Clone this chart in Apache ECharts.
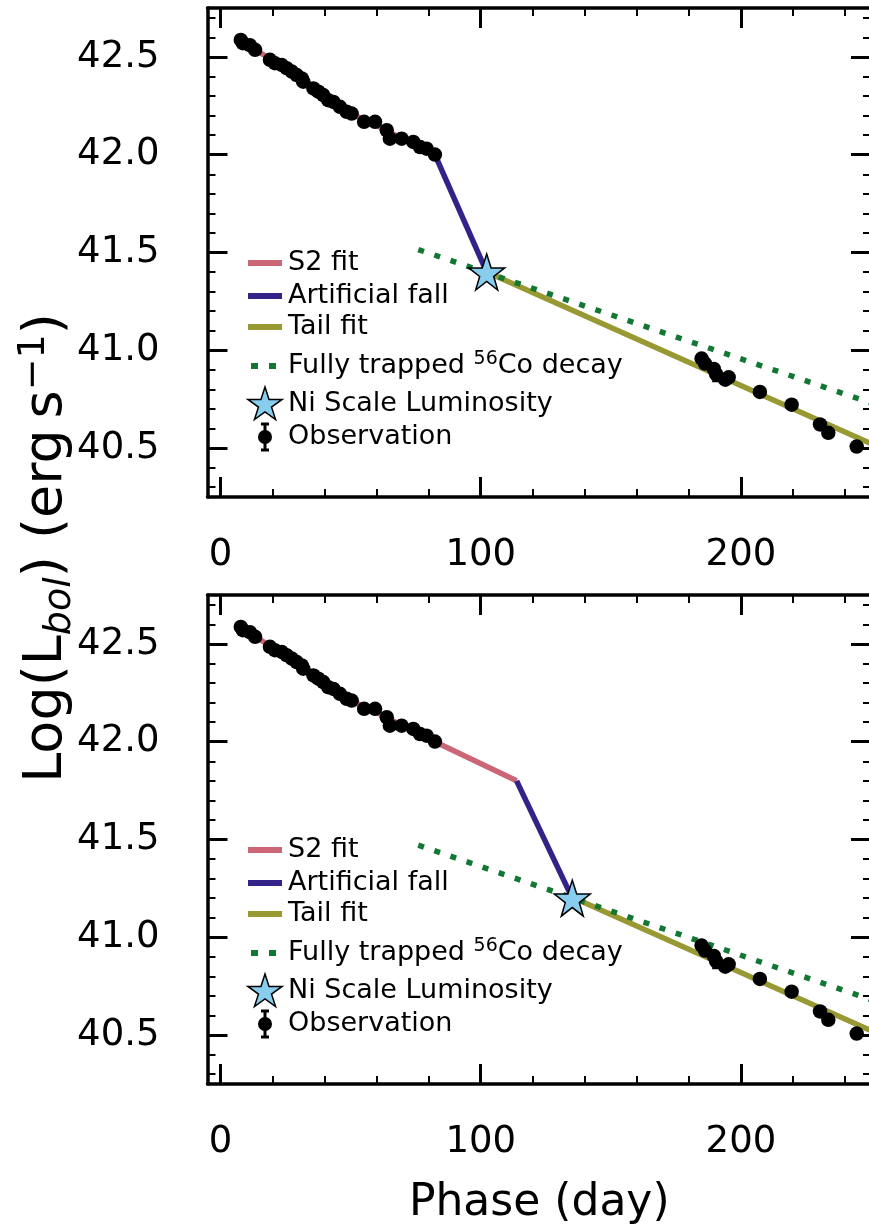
<!DOCTYPE html>
<html>
<head>
<meta charset="utf-8">
<script src="https://cdn.jsdelivr.net/npm/echarts@6/dist/echarts.min.js"></script>
<style>
  html, body { margin: 0; padding: 0; background: #fff; }
  #chart { width: 869px; height: 1226px; }
</style>
</head>
<body>
<div id="chart"></div>
<script>
// observed bolometric light curve, same in both panels
const obsPhase = [7.8, 8.6, 11.3, 13.3, 19.0, 20.9, 23.5, 25.4, 27.4, 29.3, 31.2, 31.8, 35.7, 37.6, 39.5,
  41.4, 43.4, 45.9, 48.5, 50.4, 55.2, 59.4, 63.9, 65.1, 69.6, 74.1, 76.7, 79.2, 82.4,
  184.9, 186.2, 189.6, 190.5, 194.0, 195.3, 207.3, 219.5, 230.4, 233.6, 244.5];
const obsLogL = [42.587, 42.57, 42.56, 42.536, 42.485, 42.468, 42.459, 42.442, 42.425, 42.407, 42.39, 42.373, 42.339, 42.322, 42.305,
  42.279, 42.27, 42.245, 42.219, 42.21, 42.168, 42.168, 42.125, 42.082, 42.082, 42.065, 42.039, 42.031, 42.001,
  40.958, 40.932, 40.905, 40.878, 40.85, 40.862, 40.787, 40.722, 40.621, 40.578, 40.508];
const obsErr = [0.01, 0.01, 0.01, 0.01, 0.01, 0.01, 0.01, 0.01, 0.01, 0.01, 0.01, 0.01, 0.01, 0.01, 0.01,
  0.01, 0.01, 0.01, 0.01, 0.01, 0.01, 0.01, 0.01, 0.01, 0.01, 0.01, 0.01, 0.01, 0.01,
  0.02, 0.02, 0.02, 0.035, 0.02, 0.02, 0.02, 0.02, 0.02, 0.02, 0.02];

// top panel fits
const topS2Phase = [8, 20, 30, 40, 50, 60, 70, 82.4];
const topS2LogL = [42.585, 42.48, 42.405, 42.30, 42.21, 42.15, 42.08, 42.0];
const topFallPhase = [82.4, 102.3];
const topFallLogL = [42.0, 41.40];
const topTailPhase = [102.3, 250];
const topTailLogL = [41.40, 40.523];
const topCoPhase = [76, 250];
const topCoLogL = [41.515, 40.731];
const topNiPhase = [102.3];
const topNiLogL = [41.40];

// bottom panel fits
const botS2Phase = [8, 20, 30, 40, 50, 60, 70, 82.4, 113.8];
const botS2LogL = [42.585, 42.48, 42.405, 42.30, 42.21, 42.15, 42.08, 42.0, 41.80];
const botFallPhase = [113.8, 135.2];
const botFallLogL = [41.80, 41.20];
const botTailPhase = [135.2, 250];
const botTailLogL = [41.205, 40.523];
const botCoPhase = [76, 250];
const botCoLogL = [41.471, 40.681];
const botNiPhase = [135.2];
const botNiLogL = [41.20];

// axes
const xMin = -5, xMax = 250;
const yMin = 40.25, yMax = 42.75;
const xMajor = [0, 100, 200];
const xMinor = [0, 20, 40, 60, 80, 100, 120, 140, 160, 180, 200, 220, 240];
const yMajor = [40.5, 41.0, 41.5, 42.0, 42.5];
const yMinor = [40.3, 40.4, 40.5, 40.6, 40.7, 40.8, 40.9, 41.0, 41.1, 41.2, 41.3, 41.4, 41.5,
  41.6, 41.7, 41.8, 41.9, 42.0, 42.1, 42.2, 42.3, 42.4, 42.5, 42.6, 42.7];

const legendNames = ['S2 fit', 'Artificial fall', 'Tail fit', 'Fully trapped 56Co decay', 'Ni Scale Luminosity', 'Observation'];

const FONT = 'DejaVu Sans';
const C_S2 = '#CC6677', C_FALL = '#332288', C_TAIL = '#999933', C_CO = '#117733', C_STAR = '#88CCEE';
const STAR = 'path://M50,0 L61.8,35.1 L98.1,35.1 L68.8,56.7 L79.4,90.9 L50,69.1 L20.6,90.9 L31.2,56.7 L1.9,35.1 L38.2,35.1 Z';
const TICK_FS = 37;
const LEG_FS = 27;

const chart = echarts.init(document.getElementById('chart'));

const xAxes = [];
const yAxes = [];
function addAxes(g, showName) {
  const xb = { type: 'value', gridIndex: g, min: xMin, max: xMax, splitLine: { show: false } };
  const yb = { type: 'value', gridIndex: g, min: yMin, max: yMax, splitLine: { show: false } };
  const spine = { show: true, onZero: false, lineStyle: { color: '#000', width: 3.5 } };
  const noLine = { show: false, onZero: false };
  const major = (vals) => ({ show: true, inside: true, length: 20, customValues: vals, lineStyle: { color: '#000', width: 3 } });
  const minor = (vals) => ({ show: true, inside: true, length: 8, customValues: vals, lineStyle: { color: '#000', width: 2 } });
  xAxes.push(Object.assign({}, xb, {
    position: 'bottom', axisLine: spine, axisTick: major(xMajor),
    axisLabel: { show: true, customValues: xMajor, margin: 40, fontSize: TICK_FS, color: '#000', fontFamily: FONT },
    name: showName ? 'Phase (day)' : '', nameLocation: 'middle', nameGap: 98,
    nameTextStyle: { fontSize: 44, color: '#000', fontFamily: FONT }
  }));
  xAxes.push(Object.assign({}, xb, { position: 'bottom', axisLine: noLine, axisTick: minor(xMinor), axisLabel: { show: false } }));
  xAxes.push(Object.assign({}, xb, { position: 'top', axisLine: spine, axisTick: major(xMajor), axisLabel: { show: false } }));
  xAxes.push(Object.assign({}, xb, { position: 'top', axisLine: noLine, axisTick: minor(xMinor), axisLabel: { show: false } }));

  yAxes.push(Object.assign({}, yb, {
    position: 'left', axisLine: spine, axisTick: major(yMajor),
    axisLabel: { show: true, customValues: yMajor, margin: 48, fontSize: TICK_FS, color: '#000', fontFamily: FONT,
      formatter: (v) => v.toFixed(1) }
  }));
  yAxes.push(Object.assign({}, yb, { position: 'left', axisLine: noLine, axisTick: minor(yMinor), axisLabel: { show: false } }));
  yAxes.push(Object.assign({}, yb, { position: 'right', axisLine: spine, axisTick: major(yMajor), axisLabel: { show: false } }));
  yAxes.push(Object.assign({}, yb, { position: 'right', axisLine: noLine, axisTick: minor(yMinor), axisLabel: { show: false } }));
}
addAxes(0, false);
addAxes(1, true);

const pairs = (xs, ys) => xs.map((x, i) => [x, ys[i]]);

function panelSeries(g, p) {
  const ax = { xAxisIndex: 4 * g, yAxisIndex: 4 * g };
  const line = (name, xs, ys, color, type, z) => Object.assign({
    name: name, type: 'line', data: pairs(xs, ys), showSymbol: false, z: z, silent: true,
    lineStyle: { color: color, width: 5.5, type: type, cap: 'butt' }, itemStyle: { color: color }
  }, ax);
  return [
    line('S2 fit', p.s2x, p.s2y, C_S2, 'solid', 2),
    line('Artificial fall', p.fx, p.fy, C_FALL, 'solid', 2),
    line('Tail fit', p.tx, p.ty, C_TAIL, 'solid', 2),
    line('Fully trapped 56Co decay', p.cx, p.cy, C_CO, [6, 11], 3),
    Object.assign({
      name: 'Observation err', type: 'custom', z: 4, silent: true,
      data: obsPhase.map((x, i) => [x, obsLogL[i], obsErr[i]]),
      encode: { x: 0, y: 1 },
      renderItem: (params, api) => {
        const x = api.value(0), y = api.value(1), e = api.value(2);
        const a = api.coord([x, y + e]);
        const b = api.coord([x, y - e]);
        const st = { stroke: '#000', lineWidth: 2.5 };
        return { type: 'group', children: [
          { type: 'line', shape: { x1: a[0], y1: a[1], x2: b[0], y2: b[1] }, style: st },
          { type: 'line', shape: { x1: a[0] - 4, y1: a[1], x2: a[0] + 4, y2: a[1] }, style: st },
          { type: 'line', shape: { x1: b[0] - 4, y1: b[1], x2: b[0] + 4, y2: b[1] }, style: st }
        ] };
      }
    }, ax),
    Object.assign({
      name: 'Observation', type: 'scatter', z: 5, silent: true, data: pairs(obsPhase, obsLogL),
      symbol: 'circle', symbolSize: 14.5, itemStyle: { color: '#000', opacity: 1 }
    }, ax),
    Object.assign({
      name: 'Ni Scale Luminosity', type: 'scatter', z: 6, silent: true, data: pairs(p.nx, p.ny),
      symbol: STAR, symbolSize: 36, itemStyle: { color: C_STAR, borderColor: '#000', borderWidth: 1.5, opacity: 1 }
    }, ax)
  ];
}

const series = [].concat(
  panelSeries(0, { s2x: topS2Phase, s2y: topS2LogL, fx: topFallPhase, fy: topFallLogL, tx: topTailPhase, ty: topTailLogL,
    cx: topCoPhase, cy: topCoLogL, nx: topNiPhase, ny: topNiLogL }),
  panelSeries(1, { s2x: botS2Phase, s2y: botS2LogL, fx: botFallPhase, fy: botFallLogL, tx: botTailPhase, ty: botTailLogL,
    cx: botCoPhase, cy: botCoLogL, nx: botNiPhase, ny: botNiLogL })
);

// five-pointed star outline for the legend icon
function starPoints(cx, cy, R) {
  const pts = [];
  for (let k = 0; k < 10; k++) {
    const r = k % 2 === 0 ? R : R * 0.382;
    const a = -Math.PI / 2 + k * Math.PI / 5;
    pts.push([cx + r * Math.cos(a), cy + r * Math.sin(a)]);
  }
  return pts;
}

// hand-drawn legend (one per panel) so the handles look like matplotlib's
function legendGraphics(dy) {
  const rowY = [263, 296, 327, 366, 404, 437].map((v) => v + dy);
  const hx = 248, hw = 34, tx = 288;
  const txt = { fontSize: LEG_FS, fontFamily: FONT, fill: '#000' };
  const els = [];
  [C_S2, C_FALL, C_TAIL].forEach((c, i) => {
    els.push({ type: 'rect', shape: { x: hx, y: rowY[i] - 3, width: hw, height: 6 }, style: { fill: c } });
  });
  els.push({ type: 'rect', shape: { x: hx + 3, y: rowY[3] - 3, width: 7, height: 6 }, style: { fill: C_CO } });
  els.push({ type: 'rect', shape: { x: hx + 21, y: rowY[3] - 3, width: 7, height: 6 }, style: { fill: C_CO } });
  els.push({ type: 'polygon', shape: { points: starPoints(hx + 17, rowY[4] + 1, 18) },
    style: { fill: C_STAR, stroke: '#000', lineWidth: 1.5 } });
  const ox = hx + 17, oy = rowY[5];
  const es = { stroke: '#000', lineWidth: 3 };
  els.push({ type: 'line', shape: { x1: ox, y1: oy - 13, x2: ox, y2: oy + 13 }, style: es });
  els.push({ type: 'line', shape: { x1: ox - 4, y1: oy - 13, x2: ox + 4, y2: oy - 13 }, style: es });
  els.push({ type: 'line', shape: { x1: ox - 4, y1: oy + 13, x2: ox + 4, y2: oy + 13 }, style: es });
  els.push({ type: 'circle', shape: { cx: ox, cy: oy, r: 7 }, style: { fill: '#000' } });
  legendNames.forEach((name, i) => {
    let style;
    if (name.indexOf('56Co') >= 0) {
      style = Object.assign({}, txt, {
        text: '{n|Fully trapped }{s|56}{n|Co decay}',
        rich: { n: { fontSize: LEG_FS, fontFamily: FONT, lineHeight: 32 },
                s: { fontSize: 19, fontFamily: FONT, lineHeight: 22, verticalAlign: 'top' } }
      });
    } else {
      style = Object.assign({}, txt, { text: name });
    }
    style.verticalAlign = 'middle';
    style.align = 'left';
    els.push({ type: 'text', x: tx, y: rowY[i], style: style });
  });
  return els;
}

const graphic = [].concat(legendGraphics(0), legendGraphics(587), [{
  type: 'text', x: 47, y: 548, rotation: Math.PI / 2,
  style: {
    text: '{n|Log(L}{b|bol}{n|) (erg\u2009s}{p|\u22121}{n|)}',
    align: 'center', verticalAlign: 'middle',
    rich: {
      n: { fontSize: 54, fontFamily: FONT, lineHeight: 64, fill: '#000' },
      b: { fontSize: 38, fontFamily: FONT, fontStyle: 'italic', lineHeight: 38, verticalAlign: 'bottom', fill: '#000' },
      p: { fontSize: 38, fontFamily: FONT, lineHeight: 38, verticalAlign: 'top', fill: '#000' }
    }
  }
}]);

chart.setOption({
  animation: false,
  textStyle: { fontFamily: FONT },
  grid: [
    { left: 207.5, top: 8, width: 663.5, height: 489, outerBoundsMode: 'none' },
    { left: 207.5, top: 595, width: 663.5, height: 489, outerBoundsMode: 'none' }
  ],
  xAxis: xAxes,
  yAxis: yAxes,
  series: series,
  graphic: graphic
});
</script>
</body>
</html>
